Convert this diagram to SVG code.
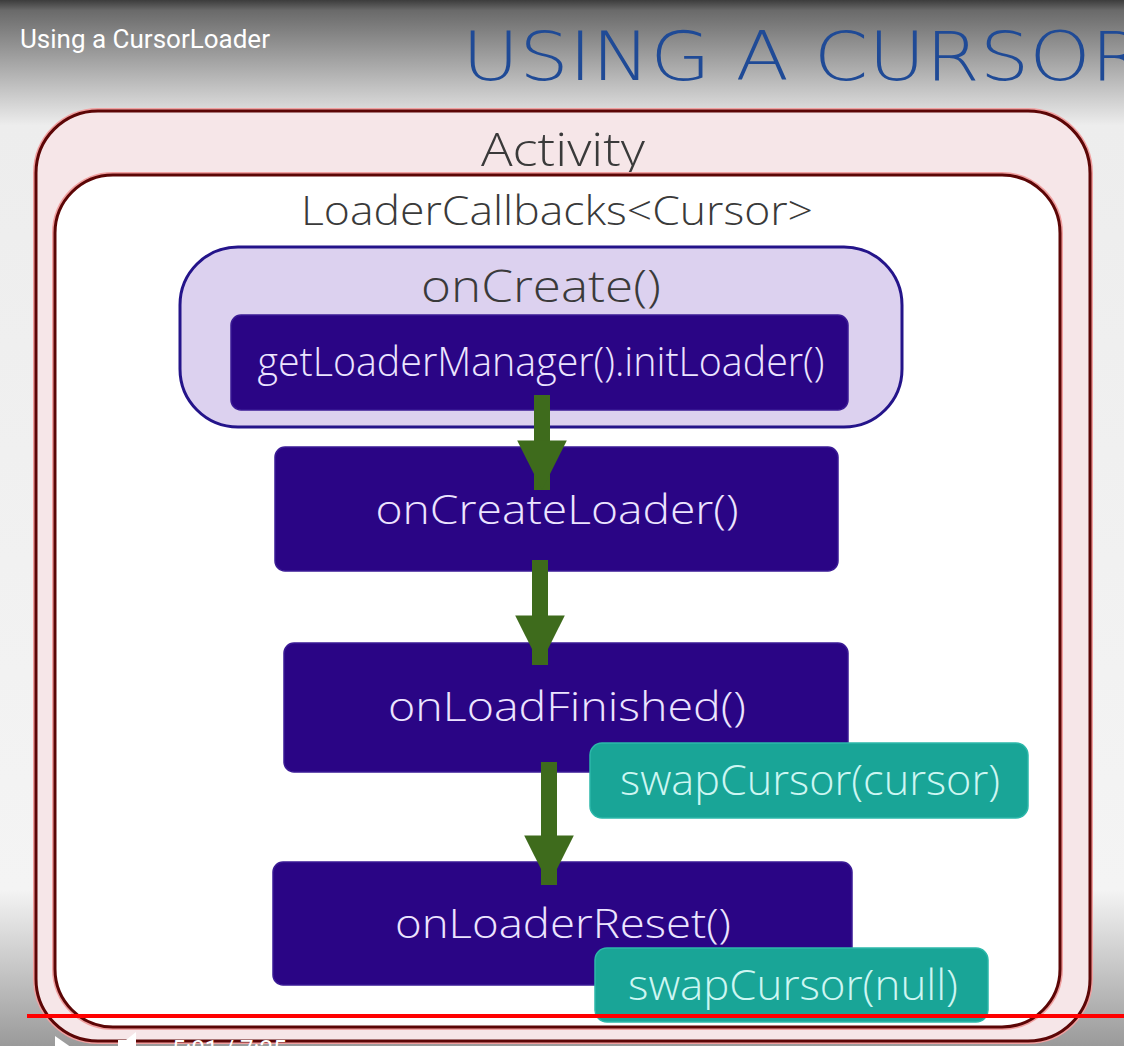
<svg xmlns="http://www.w3.org/2000/svg" width="1124" height="1046" viewBox="0 0 1124 1046">
<defs>
<linearGradient id="bg" x1="0" y1="0" x2="0" y2="1046" gradientUnits="userSpaceOnUse">
<stop offset="0" stop-color="#3c3c3c"/>
<stop offset="0.01" stop-color="#6a6a6a"/>
<stop offset="0.12" stop-color="#ededed"/>
<stop offset="0.85" stop-color="#f4f4f4"/>
<stop offset="1" stop-color="#9a9a9a"/>
</linearGradient>
<marker id="ah" viewBox="0 0 10 10" refX="10" refY="5" markerWidth="3.1" markerHeight="3.2" markerUnits="strokeWidth" orient="auto">
<path d="M0,0 L10,5 L0,10 Z" fill="#3e6b1c"/>
</marker>
<style>
.halo{fill:none;stroke:#f0a0a0;stroke-width:6}
.frame{stroke:#5c0606;stroke-width:3}
.label{font-family:"Open Sans","Lato","Liberation Sans",sans-serif;font-weight:300;text-anchor:middle}
.dark{fill:#2a0585;stroke:#3a1a95;stroke-width:1.5}
.dtext{fill:#ece4ff;font-size:40px}
.teal{fill:#19a597;stroke:#2cb8aa;stroke-width:1.5}
.ttext{fill:#cdf6f2;font-size:42px}
.arrow{stroke:#3e6b1c;stroke-width:16;fill:none;marker-end:url(#ah)}
</style>
</defs>
<rect x="0" y="0" width="1124" height="1046" fill="url(#bg)"/>
<text x="20" y="48" font-family="Roboto,'Liberation Sans',sans-serif" font-size="26" fill="#ffffff">Using a CursorLoader</text>
<text x="462" y="80" font-family="'DejaVu Sans','Liberation Sans',sans-serif" font-size="68" font-weight="200" fill="#1f4a96" textLength="683" lengthAdjust="spacingAndGlyphs">USING A CURSOR</text>

<g id="activity">
<rect x="36" y="111" width="1054" height="930" rx="62" class="halo"/>
<rect x="36" y="111" width="1054" height="930" rx="62" fill="#f6e6e8" class="frame"/>
<text x="563" y="166" class="label" font-size="46" fill="#3a3a3a" textLength="164" lengthAdjust="spacingAndGlyphs">Activity</text>
</g>
<g id="loadercallbacks">
<rect x="55" y="175" width="1005" height="852" rx="58" class="halo"/>
<rect x="55" y="175" width="1005" height="852" rx="58" fill="#ffffff" class="frame"/>
<text x="557" y="225" class="label" font-size="40" fill="#3a3a3a" textLength="512" lengthAdjust="spacingAndGlyphs">LoaderCallbacks&lt;Cursor&gt;</text>
</g>
<g id="oncreate">
<rect x="180" y="247" width="722" height="180" rx="58" fill="#dcd1ef" stroke="#24148a" stroke-width="3"/>
<text x="541" y="302" class="label" font-size="44" fill="#3a3a3a" textLength="240" lengthAdjust="spacingAndGlyphs">onCreate()</text>
</g>
<g id="initloader">
<rect x="231" y="315" width="617" height="95" rx="10" class="dark"/>
<text x="541" y="376" class="label dtext" textLength="567" lengthAdjust="spacingAndGlyphs">getLoaderManager().initLoader()</text>
</g>
<g id="oncreateloader">
<rect x="275" y="447" width="563" height="124" rx="10" class="dark"/>
<text x="557" y="524" class="label dtext" textLength="363" lengthAdjust="spacingAndGlyphs">onCreateLoader()</text>
</g>
<g id="onloadfinished">
<rect x="284" y="643" width="564" height="129" rx="10" class="dark"/>
<text x="567" y="721" class="label dtext" textLength="358" lengthAdjust="spacingAndGlyphs">onLoadFinished()</text>
</g>
<g id="onloaderreset">
<rect x="273" y="862" width="579" height="123" rx="10" class="dark"/>
<text x="563" y="938" class="label dtext" textLength="336" lengthAdjust="spacingAndGlyphs">onLoaderReset()</text>
</g>
<g id="connectors">
<line x1="542" y1="395" x2="542" y2="490" class="arrow"/>
<line x1="540" y1="560" x2="540" y2="665" class="arrow"/>
<line x1="549" y1="762" x2="549" y2="885" class="arrow"/>
</g>
<g id="swapcursor-cursor">
<rect x="590" y="743" width="438" height="75" rx="12" class="teal"/>
<text x="810" y="795" class="label ttext" textLength="380" lengthAdjust="spacingAndGlyphs">swapCursor(cursor)</text>
</g>
<g id="swapcursor-null">
<rect x="595" y="948" width="393" height="74" rx="12" class="teal"/>
<text x="793" y="1000" class="label ttext" textLength="330" lengthAdjust="spacingAndGlyphs">swapCursor(null)</text>
</g>
<line x1="27" y1="1016" x2="1124" y2="1016" stroke="#ff0000" stroke-width="4"/>
<path d="M55,1036 L75,1050 L55,1064 Z" fill="#ffffff"/>
<path d="M118,1040 h8 l10,-8 v28 l-10,-8 h-8 Z" fill="#ffffff"/>
<text x="172" y="1057" font-family="Roboto,'Liberation Sans',sans-serif" font-size="24" fill="#ffffff">5:01 / 7:25</text>
</svg>
